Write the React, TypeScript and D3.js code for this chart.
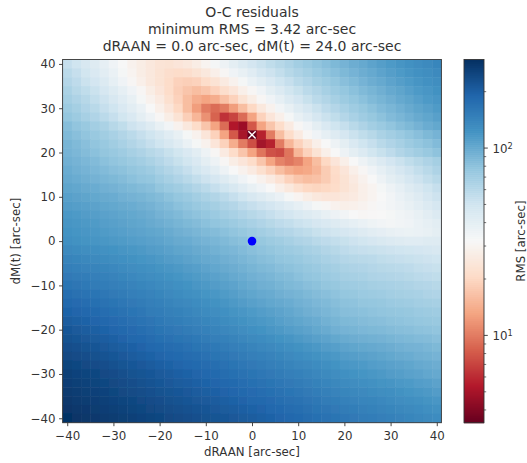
import * as d3 from "d3";
import { useEffect, useRef } from "react";

const titleLines = [
  "O-C residuals",
  "minimum RMS = 3.42 arc-sec",
  "dRAAN = 0.0 arc-sec, dM(t) = 24.0 arc-sec",
];

const dRaanValues = d3.range(-40, 41, 2);
const dMValues = d3.range(40, -41, -2);
const axisTicks = [-40, -30, -20, -10, 0, 10, 20, 30, 40];
const colorbarMajor = [10, 100];
const colorbarMinor = [4, 5, 6, 7, 8, 9, 20, 30, 40, 50, 60, 70, 80, 90, 200];

const rmsMin = 3.42;
const rmsMax = 297;
const bestFit = [0, 24];
const startPoint = [0, 0];

// matplotlib RdBu stops
const rdBu = ["#67001f", "#b2182b", "#d6604d", "#f4a582", "#fddbc7", "#f7f7f7", "#d1e5f0", "#92c5de", "#4393c3", "#2166ac", "#053061"];

// RMS per cell. top row is dM = 40, left column is dRAAN = -40
const rmsRows = [
  [54, 50, 46, 43, 39, 35, 32, 29, 27, 25, 23.5, 23, 24, 25, 27, 30, 33, 36, 40, 44, 48, 52, 56, 60, 64, 69, 73, 78, 82, 87, 91, 96, 100, 105, 110, 114, 119, 124, 129, 133, 138],
  [58, 54, 49, 45, 41, 37, 33, 30, 27, 25, 23, 21.5, 21, 21.5, 23, 25, 28, 31, 35, 38, 42, 47, 51, 55, 60, 64, 68, 73, 78, 82, 87, 91, 96, 100, 105, 110, 114, 119, 124, 128, 133],
  [61, 57, 52, 48, 44, 39, 35, 31, 28, 25, 23, 21, 19, 18.5, 19, 21, 23, 26, 29, 33, 37, 41, 45, 50, 54, 59, 63, 68, 72, 77, 82, 86, 91, 96, 100, 105, 110, 114, 119, 124, 128],
  [65, 60, 56, 52, 47, 43, 39, 35, 31, 27, 24, 21, 18.5, 17, 16, 17, 19, 21.5, 24, 28, 31, 35, 40, 44, 49, 53, 58, 62, 67, 72, 76, 81, 86, 90, 95, 100, 104, 109, 114, 118, 123],
  [68, 64, 60, 55, 51, 46, 42, 38, 33, 29, 26, 22, 19, 16, 14, 13, 14, 16.5, 19, 23, 27, 31, 35, 39, 44, 48, 53, 58, 62, 67, 72, 76, 81, 86, 90, 95, 100, 104, 109, 114, 118],
  [72, 68, 63, 59, 54, 50, 45, 41, 37, 32, 28, 24, 20, 16, 12.5, 10, 9, 10, 12.5, 16, 20, 25, 29, 34, 38, 43, 47, 52, 57, 61, 66, 71, 75, 80, 85, 89, 94, 99, 104, 108, 113],
  [76, 72, 67, 63, 58, 54, 49, 45, 40, 36, 31, 27, 23, 18.5, 15, 11.5, 8.5, 6.3, 7, 9, 13, 19, 24, 28, 33, 38, 42, 47, 52, 56, 61, 66, 71, 75, 80, 85, 89, 94, 99, 103, 108],
  [83, 78, 74, 69, 65, 60, 56, 51, 47, 43, 38, 34, 29, 25, 21, 17, 13, 9, 5.3, 4.7, 8, 13, 17, 21, 26, 31, 35, 40, 45, 50, 54, 59, 64, 69, 73, 78, 83, 87, 92, 97, 101],
  [86, 82, 78, 74, 70, 66, 62, 58, 54, 50, 46, 42, 38, 33, 29, 24, 19, 13, 8, 5, 3.42, 5.6, 10, 16, 21, 26, 31, 35, 39, 43, 47, 52, 56, 60, 65, 69, 73, 78, 82, 87, 91],
  [90, 86, 82, 78, 74, 70, 66, 62, 58, 54, 50, 46, 42, 37, 33, 29, 24, 19, 14, 10, 7.5, 4.9, 5.6, 10, 15, 19, 23, 28, 32, 36, 40, 45, 50, 54, 59, 63, 67, 72, 76, 80, 85],
  [91, 88, 84, 81, 77, 74, 71, 67, 64, 60, 57, 53, 49, 45, 41, 36, 31, 26, 21, 17, 13, 9.5, 7.6, 7.2, 9.5, 15, 19, 23, 28, 32, 36, 40, 44, 49, 53, 57, 62, 66, 70, 74, 79],
  [94, 91, 88, 85, 81, 78, 75, 72, 69, 65, 61, 57, 53, 49, 45, 40, 36, 31, 27, 24, 21, 17, 13, 10.5, 9.6, 10.5, 13, 16, 20, 24, 28, 32, 36, 40, 44, 48, 52, 56, 60, 64, 68],
  [97, 94, 91, 88, 85, 82, 80, 77, 74, 71, 66, 62, 58, 54, 49, 45, 41, 36, 32, 29, 26, 22, 19, 16, 14, 13, 13.5, 15, 18, 21, 24, 28, 31, 35, 39, 43, 47, 51, 55, 59, 64],
  [100, 97, 95, 92, 89, 87, 84, 81, 78, 76, 71, 67, 63, 59, 55, 51, 47, 43, 39, 35, 32, 29, 26, 22.5, 19, 17, 16, 16.5, 18, 20.5, 23, 26, 29, 32, 36, 40, 43, 47, 51, 55, 59],
  [104, 102, 99, 97, 94, 92, 89, 87, 84, 82, 77, 73, 70, 66, 62, 58, 54, 50, 46, 42, 38, 35, 32, 28, 25, 22, 20, 19.5, 20, 21, 23, 25, 28, 30, 33, 36, 39, 43, 46, 50, 54],
  [108, 106, 104, 101, 99, 97, 94, 92, 90, 87, 84, 80, 76, 73, 69, 65, 62, 58, 54, 50, 46, 43, 40, 37, 33, 30, 27, 25, 24, 24, 25, 26, 28, 30, 32, 34, 37, 40, 43, 47, 51],
  [112, 110, 108, 106, 103, 101, 99, 97, 95, 92, 88, 85, 81, 78, 74, 71, 68, 64, 61, 57, 54, 51, 48, 45, 42, 39, 36, 33, 31, 29, 28, 28.5, 29.5, 31, 32.5, 34, 36, 38, 41, 44, 47],
  [116, 114, 112, 110, 107, 105, 103, 101, 99, 96, 92, 89, 86, 82, 79, 76, 73, 69, 66, 63, 60, 57, 54, 51, 48, 45, 43, 41, 38, 36, 34, 32, 31, 31.5, 32, 33, 34.5, 36, 38, 41, 44],
  [119, 117, 115, 113, 110, 108, 106, 104, 102, 99, 96, 93, 90, 87, 84, 81, 78, 75, 72, 69, 66, 63, 60, 57, 55, 52, 50, 47, 45, 43, 41, 39, 37, 35.5, 34, 33.5, 34, 35, 37, 39, 41],
  [122, 120, 118, 116, 113, 111, 109, 107, 105, 103, 101, 98, 95, 92, 89, 86, 84, 81, 78, 75, 72, 69, 66, 63, 61, 58, 56, 53, 51, 49, 47, 45, 43, 41, 39.5, 38, 37, 36.5, 37, 38, 40],
  [125, 123, 121, 119, 117, 115, 113, 111, 109, 107, 105, 102, 99, 97, 94, 91, 89, 86, 83, 81, 78, 75, 72, 70, 67, 64, 62, 59, 57, 55, 53, 51, 49, 47, 45.5, 44, 43, 42, 42, 42.5, 43],
  [133, 131, 128, 126, 124, 122, 119, 117, 115, 112, 110, 107, 104, 102, 99, 96, 93, 90, 88, 85, 82, 79, 77, 74, 72, 70, 67, 65, 62, 60, 57, 55, 54, 53, 52, 51, 50, 49, 48, 47, 46],
  [141, 138, 136, 133, 131, 128, 125, 123, 120, 118, 115, 112, 109, 106, 103, 100, 98, 95, 92, 89, 86, 83, 81, 78, 76, 74, 71, 69, 66, 64, 61, 60, 59, 58, 56, 55, 54, 53, 52, 51, 50],
  [149, 146, 143, 141, 138, 135, 132, 129, 127, 124, 121, 118, 115, 112, 109, 105, 102, 99, 96, 93, 90, 87, 85, 82, 80, 78, 75, 73, 70, 68, 65, 64, 63, 61, 60, 59, 58, 57, 55, 54, 53],
  [157, 154, 151, 148, 145, 142, 138, 135, 132, 129, 126, 123, 120, 116, 113, 110, 107, 104, 100, 97, 94, 91, 89, 86, 84, 81, 78, 76, 73, 71, 68, 67, 66, 64, 63, 62, 61, 60, 58, 57, 56],
  [165, 162, 158, 155, 152, 148, 145, 142, 138, 135, 132, 129, 125, 122, 118, 115, 112, 108, 105, 101, 98, 95, 93, 90, 87, 85, 82, 80, 77, 75, 72, 71, 70, 68, 67, 66, 65, 64, 62, 61, 60],
  [175, 171, 167, 164, 160, 156, 153, 149, 145, 142, 138, 134, 131, 127, 124, 120, 117, 113, 110, 106, 103, 100, 98, 95, 92, 90, 87, 84, 82, 79, 76, 75, 73, 72, 71, 69, 68, 67, 66, 64, 63],
  [185, 181, 177, 173, 169, 165, 161, 157, 153, 149, 145, 141, 137, 134, 130, 126, 123, 119, 115, 112, 108, 105, 102, 100, 97, 94, 91, 88, 86, 83, 80, 79, 77, 76, 75, 73, 72, 71, 69, 68, 67],
  [195, 191, 186, 182, 177, 173, 169, 164, 160, 155, 151, 147, 144, 140, 136, 132, 129, 125, 121, 118, 114, 111, 108, 105, 102, 98, 95, 92, 89, 86, 83, 82, 81, 79, 78, 77, 76, 75, 73, 72, 71],
  [205, 200, 196, 191, 186, 181, 177, 172, 167, 163, 158, 154, 150, 146, 142, 138, 135, 131, 127, 123, 119, 116, 113, 109, 106, 103, 100, 97, 93, 90, 87, 86, 84, 83, 82, 80, 79, 78, 76, 75, 74],
  [215, 210, 205, 200, 195, 190, 185, 180, 175, 170, 165, 161, 157, 153, 149, 145, 141, 137, 133, 129, 125, 122, 118, 115, 111, 108, 105, 101, 98, 94, 91, 90, 88, 87, 86, 84, 83, 82, 80, 79, 78],
  [224, 219, 214, 209, 204, 199, 194, 189, 184, 179, 174, 170, 166, 162, 158, 153, 149, 145, 141, 137, 133, 130, 126, 122, 119, 115, 112, 108, 105, 101, 98, 96, 95, 93, 92, 90, 88, 87, 85, 84, 82],
  [233, 228, 223, 218, 213, 208, 203, 198, 193, 188, 183, 179, 175, 170, 166, 162, 158, 154, 149, 145, 141, 137, 134, 130, 127, 123, 119, 116, 112, 109, 105, 103, 101, 100, 98, 96, 94, 92, 91, 89, 87],
  [242, 237, 232, 227, 222, 217, 212, 207, 202, 197, 192, 188, 183, 179, 175, 170, 166, 162, 157, 153, 149, 145, 142, 138, 134, 130, 127, 123, 119, 116, 112, 110, 108, 106, 104, 101, 99, 97, 95, 93, 91],
  [251, 246, 241, 236, 231, 226, 221, 216, 211, 206, 201, 197, 192, 188, 183, 179, 175, 170, 166, 161, 157, 153, 149, 145, 141, 137, 134, 130, 126, 122, 118, 116, 114, 111, 109, 107, 105, 103, 100, 98, 96],
  [260, 255, 250, 245, 240, 235, 230, 225, 220, 215, 210, 206, 201, 197, 192, 187, 183, 178, 174, 169, 165, 161, 157, 153, 149, 145, 141, 137, 133, 129, 125, 122, 120, 117, 115, 112, 110, 107, 105, 102, 100],
  [266, 261, 256, 251, 246, 242, 237, 232, 227, 222, 217, 213, 208, 204, 199, 195, 191, 186, 182, 177, 173, 169, 165, 161, 157, 153, 148, 144, 140, 136, 132, 129, 127, 124, 121, 119, 116, 114, 111, 109, 106],
  [272, 267, 262, 258, 253, 248, 243, 238, 234, 229, 224, 220, 215, 211, 207, 203, 198, 194, 190, 185, 181, 177, 173, 168, 164, 160, 156, 152, 147, 143, 139, 136, 134, 131, 128, 126, 123, 120, 117, 115, 112],
  [278, 273, 269, 264, 259, 255, 250, 245, 240, 236, 231, 227, 223, 218, 214, 210, 206, 202, 197, 193, 189, 185, 180, 176, 172, 168, 163, 159, 155, 150, 146, 143, 140, 138, 135, 132, 129, 126, 124, 121, 118],
  [284, 279, 275, 270, 265, 261, 256, 252, 247, 243, 238, 234, 230, 226, 222, 218, 213, 209, 205, 201, 197, 193, 188, 184, 179, 175, 171, 166, 162, 157, 153, 150, 147, 144, 141, 139, 136, 133, 130, 127, 124],
  [290, 286, 281, 277, 272, 268, 263, 259, 254, 250, 245, 241, 237, 233, 229, 225, 221, 217, 213, 209, 205, 200, 196, 191, 187, 183, 178, 174, 169, 165, 160, 157, 154, 151, 148, 145, 142, 139, 136, 133, 130],
];

const FONT = "'DejaVu Sans', sans-serif";
const INK = "#333";

const App = () => {
  const chartRef = useRef<SVGSVGElement | null>(null);

  useEffect(() => {
    const svg = d3.select(chartRef.current);
    svg.selectAll("*").remove();

    const margin = { top: 59.5, bottom: 40.3, left: 62.6, right: 85.6 };
    const width = 527;
    const height = 463;
    const barLeft = 464;
    const barRight = 484;

    const x = d3.scaleLinear().domain([-41, 41]).range([margin.left, width - margin.right]);
    const y = d3.scaleLinear().domain([-41, 41]).range([height - margin.bottom, margin.top]);

    // log norm -> position in the colormap
    const norm = d3.scaleLog().domain([rmsMin, rmsMax]).range([0, 1]).clamp(true);
    const cmap = d3.scaleLinear<string>().domain(d3.range(0, 1.01, 0.1)).range(rdBu).interpolate(d3.interpolateRgb);
    const color = (v: number) => cmap(norm(v));

    const defs = svg.append("defs");
    defs.append("clipPath").attr("id", "plot-clip").append("rect")
      .attr("x", margin.left).attr("y", margin.top)
      .attr("width", width - margin.left - margin.right)
      .attr("height", height - margin.top - margin.bottom);
    const soft = defs.append("filter").attr("id", "soft");
    soft.append("feGaussianBlur").attr("stdDeviation", 0.7);

    // heatmap
    const heat = svg.append("g").attr("clip-path", "url(#plot-clip)").append("g").attr("filter", "url(#soft)");
    rmsRows.forEach((row, r) => {
      heat.selectAll(null)
        .data(row)
        .enter()
        .append("rect")
        .attr("x", (_, c) => x(dRaanValues[c] - 1))
        .attr("y", y(dMValues[r] + 1))
        .attr("width", x(1) - x(-1) + 0.5)
        .attr("height", y(-1) - y(1) + 0.5)
        .attr("fill", (d) => color(d));
    });

    // markers
    svg.append("circle")
      .attr("cx", x(startPoint[0])).attr("cy", y(startPoint[1])).attr("r", 4.3)
      .attr("fill", "#0000ff");
    svg.append("path")
      .attr("d", d3.symbol(d3.symbolTimes, 36)())
      .attr("transform", `translate(${x(bestFit[0])}, ${y(bestFit[1])})`)
      .attr("fill", "none")
      .attr("stroke", "white")
      .attr("stroke-width", 1.4);

    // axes
    const styleAxis = (g: any) => {
      g.selectAll("text").attr("font-family", FONT).attr("font-size", 11.8).attr("fill", INK);
      g.selectAll("line").attr("stroke", INK).attr("stroke-width", 0.9);
      g.select(".domain").remove();
    };
    svg.append("g")
      .attr("transform", `translate(0, ${height - margin.bottom})`)
      .call(d3.axisBottom(x).tickValues(axisTicks).tickSize(3.5).tickPadding(5.5))
      .call(styleAxis);
    svg.append("g")
      .attr("transform", `translate(${margin.left}, 0)`)
      .call(d3.axisLeft(y).tickValues(axisTicks).tickSize(3.5).tickPadding(3.5))
      .call(styleAxis);
    svg.append("rect")
      .attr("x", margin.left).attr("y", margin.top)
      .attr("width", width - margin.left - margin.right)
      .attr("height", height - margin.top - margin.bottom)
      .attr("fill", "none").attr("stroke", INK).attr("stroke-width", 0.9);

    // colorbar
    const barY = d3.scaleLog().domain([rmsMin, rmsMax]).range([height - margin.bottom, margin.top]);
    const barSteps = d3.range(0, 182);
    svg.append("g").selectAll("rect")
      .data(barSteps)
      .enter()
      .append("rect")
      .attr("x", barLeft)
      .attr("width", barRight - barLeft)
      .attr("y", (d) => margin.top + (d * (height - margin.top - margin.bottom)) / barSteps.length)
      .attr("height", (height - margin.top - margin.bottom) / barSteps.length + 0.6)
      .attr("fill", (d) => cmap(1 - (d + 0.5) / barSteps.length));
    svg.append("rect")
      .attr("x", barLeft).attr("y", margin.top)
      .attr("width", barRight - barLeft)
      .attr("height", height - margin.top - margin.bottom)
      .attr("fill", "none").attr("stroke", INK).attr("stroke-width", 0.9);

    const barAxis = svg.append("g").attr("transform", `translate(${barRight}, 0)`);
    barAxis.selectAll(".minor").data(colorbarMinor).enter().append("line")
      .attr("x1", 0).attr("x2", 2.2)
      .attr("y1", (d) => barY(d)).attr("y2", (d) => barY(d))
      .attr("stroke", INK).attr("stroke-width", 0.7);
    barAxis.selectAll(".major").data(colorbarMajor).enter().append("line")
      .attr("x1", 0).attr("x2", 3.8)
      .attr("y1", (d) => barY(d)).attr("y2", (d) => barY(d))
      .attr("stroke", INK).attr("stroke-width", 0.9);
    const barLabels = barAxis.selectAll(".label").data(colorbarMajor).enter().append("text")
      .attr("x", 8.5)
      .attr("y", (d) => barY(d) + 5)
      .attr("font-family", FONT).attr("font-size", 11.8).attr("fill", INK);
    barLabels.append("tspan").text("10");
    barLabels.append("tspan")
      .text((d) => String(Math.log10(d)))
      .attr("font-size", 8.2).attr("dy", -4.5);

    // text
    svg.selectAll(".title").data(titleLines).enter().append("text")
      .attr("x", x(0))
      .attr("y", (_, i) => 17 + i * 17)
      .attr("text-anchor", "middle")
      .attr("font-family", FONT).attr("font-size", 14).attr("fill", INK)
      .text((d) => d);
    svg.append("text")
      .attr("x", x(0)).attr("y", 456)
      .attr("text-anchor", "middle")
      .attr("font-family", FONT).attr("font-size", 11.8).attr("fill", INK)
      .text("dRAAN [arc-sec]");
    svg.append("text")
      .attr("transform", `translate(20, ${y(0)}) rotate(-90)`)
      .attr("text-anchor", "middle")
      .attr("font-family", FONT).attr("font-size", 11.8).attr("fill", INK)
      .text("dM(t) [arc-sec]");
    svg.append("text")
      .attr("transform", `translate(525, ${y(0)}) rotate(-90)`)
      .attr("text-anchor", "middle")
      .attr("font-family", FONT).attr("font-size", 11.8).attr("fill", INK)
      .text("RMS [arc-sec]");
  }, []);

  return <svg ref={chartRef} width={527} height={463} style={{ position: "absolute", left: 0, top: 0 }} />;
};

export default App;
